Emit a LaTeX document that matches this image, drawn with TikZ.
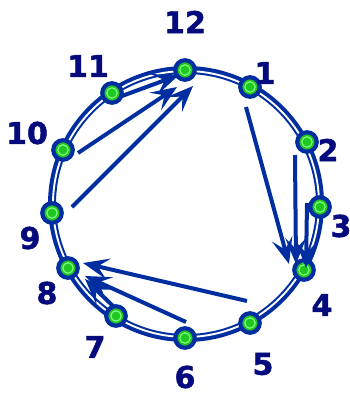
\documentclass[tikz,border=0pt]{standalone}
\usepackage{fontspec}
\setmainfont{DejaVu Sans}
\newfontfamily\numfont[FakeBold=1.6]{DejaVu Sans Bold}
\usetikzlibrary{arrows.meta}
\definecolor{ringblue}{RGB}{0,45,160}
\definecolor{labnavy}{RGB}{5,10,125}
\definecolor{dotgreen}{RGB}{30,200,30}
\definecolor{litegreen}{RGB}{140,255,140}
\begin{document}
\begin{tikzpicture}[x=1pt, y=-1pt,
	pt/.style={circle, draw=ringblue, line width=4.2pt, fill=dotgreen, minimum size=19.5pt, inner sep=0pt,
		path picture={\draw[litegreen, line width=1.1pt] (path picture bounding box.center) circle (5.2pt);}},
	num/.style={text=labnavy, font=\fontsize{30}{30}\numfont, inner sep=0pt},
	arr/.style={draw=ringblue, line width=4pt, -{Stealth[length=26pt, width=21pt, inset=11pt]}}]
		\useasboundingbox (0,0) rectangle (350,396);
		
		% Ring
		\draw[ringblue, line width=8pt] (186,204) circle (134);
		\draw[white, line width=1.9pt] (186,204) circle (133);
		
		% Nodes
		\node[pt] (n12) at (185,70) {};
		\node[pt] (n1) at (250,87) {};
		\node[pt] (n2) at (307,142) {};
		\node[pt] (n3) at (320,207) {};
		\node[pt] (n4) at (304,270) {};
		\node[pt] (n5) at (250,323) {};
		\node[pt] (n6) at (185,338) {};
		\node[pt] (n7) at (116,316) {};
		\node[pt] (n8) at (68,268) {};
		\node[pt] (n9) at (52,213) {};
		\node[pt] (n10) at (63,150) {};
		\node[pt] (n11) at (112,93) {};
		
		% Labels
		\node[num] (l12) at (185,22) {12};
		\node[num] (l1) at (265,73) {1};
		\node[num] (l2) at (328,150) {2};
		\node[num] (l3) at (341,226) {3};
		\node[num] (l4) at (322,305) {4};
		\node[num] (l5) at (263,364) {5};
		\node[num] (l6) at (185,377) {6};
		\node[num] (l7) at (95,347) {7};
		\node[num] (l8) at (47,293) {8};
		\node[num] (l9) at (30,238) {9};
		\node[num] (l10) at (27,133) {10};
		\node[num] (l11) at (88,66) {11};
		
		% Arrow ends
		\coordinate (s1) at (246,107);
		\coordinate (t1) at (289,264);
		\coordinate (s2) at (295,155);
		\coordinate (t2) at (296,264);
		\coordinate (s3) at (307,203);
		\coordinate (t3) at (306,268);
		\coordinate (s5) at (247,301);
		\coordinate (t5) at (83,263);
		\coordinate (s6) at (186,322);
		\coordinate (t6) at (85,276);
		\coordinate (s7) at (114,307);
		\coordinate (t7) at (85,279);
		\coordinate (s9) at (72,207);
		\coordinate (t9) at (193,86);
		\coordinate (s10) at (78,153);
		\coordinate (t10) at (177,87);
		\coordinate (s11) at (122,96);
		\coordinate (t11) at (179,75);
		
		% Lines
		\draw[arr] (s1) -- (t1);
		\draw[arr] (s2) -- (t2);
		\draw[arr] (s3) -- (t3);
		\draw[arr] (s5) -- (t5);
		\draw[arr] (s6) -- (t6);
		\draw[arr] (s7) -- (t7);
		\draw[arr] (s9) -- (t9);
		\draw[arr] (s10) -- (t10);
		\draw[arr] (s11) -- (t11);
		
	\end{tikzpicture}
\end{document}
